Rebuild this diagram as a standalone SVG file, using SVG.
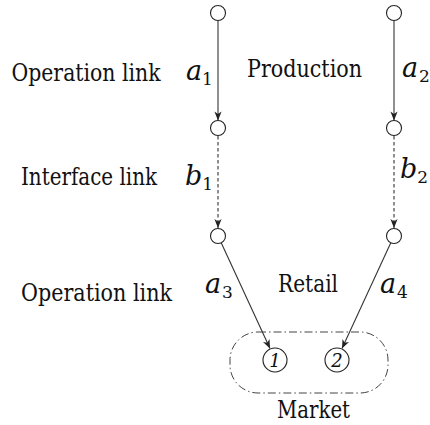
<svg xmlns="http://www.w3.org/2000/svg" width="430" height="425" viewBox="0 0 430 425">
  <style>
    text { fill: #111; font-family: 'DejaVu Serif', serif; }
    .txt { font-size: 24px; }
    .math { font-style: italic; font-size: 27px; }
    .sub { font-style: normal; font-size: 17px; }
    .node { fill: #fff; stroke: #222; stroke-width: 1.1; }
    .num { font-style: italic; font-size: 18px; text-anchor: middle; }
    .edge { fill: none; stroke: #333; stroke-width: 1.1; }
    .dashed { stroke-dasharray: 3.5 2.5; }
    .market { fill: none; stroke: #444; stroke-width: 1; stroke-dasharray: 8 3 1.5 3; }
  </style>
  <defs>
    <marker id="arrow" markerUnits="userSpaceOnUse" markerWidth="12" markerHeight="10" viewBox="-10 -5 12 10" refX="0" refY="0" orient="auto">
      <path d="M0,0 L-9,-3.6 L-6.5,0 L-9,3.6 Z" fill="#222"/>
    </marker>
  </defs>

  <!-- market region -->
  <rect id="market-region" class="market" x="230" y="332" width="158" height="61" rx="28" ry="28"/>

  <!-- connectors -->
  <g id="connectors">
    <line class="edge" x1="218" y1="20.5" x2="218" y2="120.5" marker-end="url(#arrow)"/>
    <line class="edge" x1="394" y1="20.5" x2="394" y2="120.5" marker-end="url(#arrow)"/>
    <line class="edge dashed" x1="218" y1="136" x2="218" y2="228" marker-end="url(#arrow)"/>
    <line class="edge dashed" x1="394" y1="136" x2="394" y2="228" marker-end="url(#arrow)"/>
    <line class="edge" x1="221.2" y1="242.8" x2="270" y2="348.6" marker-end="url(#arrow)"/>
    <line class="edge" x1="390.8" y1="242.8" x2="342" y2="348.6" marker-end="url(#arrow)"/>
  </g>

  <!-- nodes -->
  <g id="n-a1-top"><circle class="node" cx="218" cy="13" r="7.5"/></g>
  <g id="n-a2-top"><circle class="node" cx="394" cy="13" r="7.5"/></g>
  <g id="n-left-mid"><circle class="node" cx="218" cy="128" r="7.5"/></g>
  <g id="n-right-mid"><circle class="node" cx="394" cy="128" r="7.5"/></g>
  <g id="n-left-low"><circle class="node" cx="218" cy="236" r="7.5"/></g>
  <g id="n-right-low"><circle class="node" cx="394" cy="236" r="7.5"/></g>
  <g id="market-1"><circle class="node" cx="275" cy="360" r="12"/><text class="num" x="275" y="366.5">1</text></g>
  <g id="market-2"><circle class="node" cx="337" cy="360" r="12"/><text class="num" x="337" y="366.5">2</text></g>

  <!-- labels -->
  <g id="labels">
    <text class="txt" x="11.5" y="81" textLength="149" lengthAdjust="spacingAndGlyphs">Operation link</text>
    <text class="txt" x="21" y="185" textLength="136" lengthAdjust="spacingAndGlyphs">Interface link</text>
    <text class="txt" x="21" y="301" textLength="151" lengthAdjust="spacingAndGlyphs">Operation link</text>
    <text class="txt" x="247" y="77" textLength="115" lengthAdjust="spacingAndGlyphs">Production</text>
    <text class="txt" x="278" y="292" textLength="60" lengthAdjust="spacingAndGlyphs">Retail</text>
    <text class="txt" x="277" y="418" textLength="73" lengthAdjust="spacingAndGlyphs">Market</text>

    <!-- edge symbols with subscripts -->
    <text class="math" x="186" y="80">a<tspan class="sub" dx="0" dy="5">1</tspan></text>
    <text class="math" x="402" y="77">a<tspan class="sub" dx="1" dy="5">2</tspan></text>
    <text class="math" x="185" y="185">b<tspan class="sub" dx="0" dy="5">1</tspan></text>
    <text class="math" x="400" y="178">b<tspan class="sub" dx="0" dy="5">2</tspan></text>
    <text class="math" x="205" y="293">a<tspan class="sub" dx="1" dy="5">3</tspan></text>
    <text class="math" x="380" y="293">a<tspan class="sub" dx="1" dy="5">4</tspan></text>
  </g>
</svg>
